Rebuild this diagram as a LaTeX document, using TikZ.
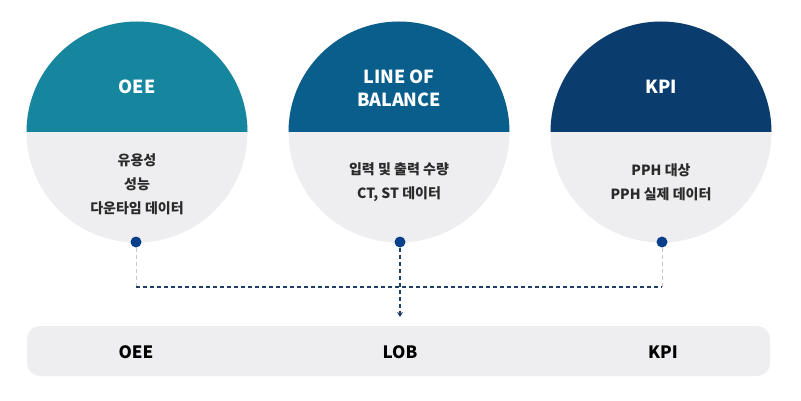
\documentclass[tikz,border=0pt]{standalone}
\usepackage{fontspec}
\setmainfont{Noto Sans CJK KR}
\usetikzlibrary{arrows.meta}
\definecolor{cteal}{HTML}{16869F}
\definecolor{cblue}{HTML}{0A5E8C}
\definecolor{cnavy}{HTML}{0B3C6E}
\definecolor{cgrey}{HTML}{EEEEF0}
\definecolor{cdot}{HTML}{0A3F8C}
\definecolor{cdash}{HTML}{1F3F66}
\definecolor{cldash}{HTML}{C4C6CA}
\definecolor{ctext}{HTML}{2A2A2A}
\tikzset{
  head/.style={font=\bfseries\fontsize{18}{23}\selectfont, text=white, align=center, inner sep=0pt},
  body/.style={font=\bfseries\fontsize{14}{24}\selectfont, text=ctext, align=center, inner sep=0pt},
  bar/.style={font=\bfseries\fontsize{17}{20}\selectfont, text=black, inner sep=0pt},
  dotnode/.style={circle, fill=cdot, minimum size=11pt, inner sep=0pt},
  navydash/.style={draw=cdash, line width=1.1pt, dash pattern=on 4pt off 3pt},
  greydash/.style={draw=cldash, line width=0.9pt, dash pattern=on 4pt off 3pt},
}
\begin{document}
\begin{tikzpicture}[x=1pt,y=-1pt]
\useasboundingbox (0,0) rectangle (801,401);
\fill[white] (0,0) rectangle (801,401);
% circles
\foreach \cx/\col in {137/cteal, 399/cblue, 661/cnavy}{
  \fill[cgrey] (\cx,132) circle (110.5);
  \begin{scope}
    \clip (\cx,132) circle (110.5);
    \fill[\col] (\cx-112,20) rectangle (\cx+112,132);
  \end{scope}
}
% headings
\node[head] (h1) at (137,87) {OEE};
\node[head] (h2) at (399,88) {LINE OF\\BALANCE};
\node[head] (h3) at (661,87) {KPI};
% bodies
\node[body] (b1) at (137,184) {유용성\\성능\\다운타임 데이터};
\node[body] (b2) at (399,182) {입력 및 출력 수량\\CT, ST 데이터};
\node[body] (b3) at (661,182) {PPH 대상\\PPH 실제 데이터};
% bottom bar
\fill[cgrey, rounded corners=13pt] (27,326) rectangle (770,376);
\node[bar] (o1) at (136,352) {OEE};
\node[bar] (o2) at (400,352) {LOB};
\node[bar] (o3) at (663,352) {KPI};
% dots
\node[dotnode] (d1) at (136,242) {};
\node[dotnode] (d2) at (400,242) {};
\node[dotnode] (d3) at (662,242) {};
% connectors
\coordinate (j1) at (136,287);
\coordinate (j2) at (400,287);
\coordinate (j3) at (662,287);
\coordinate (tip) at (400,317);
\draw[greydash] (d1.south) -- (j1);
\draw[greydash] (d3.south) -- (j3);
\draw[navydash] (j1) -- (j3);
\draw[navydash, -{Stealth[length=5pt,width=6pt]}] (d2.south) -- (tip);
\end{tikzpicture}
\end{document}
